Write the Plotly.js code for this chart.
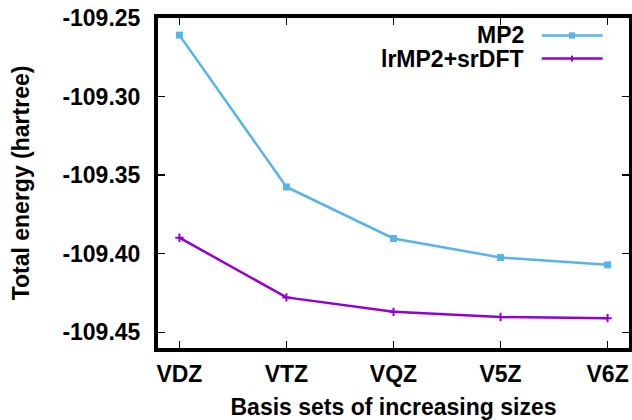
<!DOCTYPE html>
<html>
<head>
<meta charset="utf-8">
<script src="https://cdn.plot.ly/plotly-3.0.1.min.js"></script>
<style>html,body{margin:0;padding:0;background:#fff;}#chart{width:632px;height:420px;}</style>
</head>
<body>
<div id="chart"></div>
<script>
const basisSets = ['VDZ', 'VTZ', 'VQZ', 'V5Z', 'V6Z'];
const mp2 = [-109.2609, -109.3575, -109.3903, -109.4024, -109.4071];
const lrmp2srdft = [-109.3898, -109.4278, -109.4370, -109.4403, -109.4410];
const yTickVals = [-109.45, -109.40, -109.35, -109.30, -109.25];
const yTickText = ['-109.45', '-109.40', '-109.35', '-109.30', '-109.25'];
const seriesNames = ['MP2', 'lrMP2+srDFT'];

const xIdx = basisSets.map((_, i) => i);
const FONT = 'Liberation Sans, Arial, sans-serif';
const c1 = '#56b4e9', c2 = '#9400d3';
const B = s => '<b>' + s + '</b>';

const traces = [
  {x: xIdx, y: mp2, name: seriesNames[0], type: 'scatter', mode: 'lines+markers',
   line: {color: c1, width: 2.5}, marker: {symbol: 'square', size: 7, color: c1}},
  {x: xIdx, y: lrmp2srdft, name: seriesNames[1], type: 'scatter', mode: 'lines+markers',
   line: {color: c2, width: 2.5}, marker: {symbol: 'cross-thin', size: 6, line: {color: c2, width: 2}}}
];

// manual gnuplot-style legend (text right-aligned, sample on the right)
const legY = [0.947, 0.877];
const annotations = seriesNames.map((n, i) => ({
  xref: 'paper', yref: 'paper', x: 0.781, y: legY[i], xanchor: 'right', yanchor: 'middle',
  text: B(n), showarrow: false, font: {family: FONT, size: 23, color: '#000'}
}));
const cols = [c1, c2];
const shapes = [];
cols.forEach((c, i) => {
  shapes.push({type: 'line', xref: 'paper', yref: 'paper', x0: 0.8147, x1: 0.944, y0: legY[i], y1: legY[i],
    line: {color: c, width: 2.5}});
});
shapes.push({type: 'rect', xref: 'paper', yref: 'paper', x0: 0.8727, x1: 0.8855, y0: legY[0] - 0.0095, y1: legY[0] + 0.0095,
  fillcolor: c1, line: {width: 0}});
shapes.push({type: 'line', xref: 'paper', yref: 'paper', x0: 0.879, x1: 0.879, y0: legY[1] - 0.009, y1: legY[1] + 0.009,
  line: {color: c2, width: 2}});

const layout = {
  width: 632, height: 420,
  margin: {l: 158, r: 3, t: 18, b: 72},
  paper_bgcolor: '#fff', plot_bgcolor: '#fff',
  showlegend: false,
  font: {family: FONT, size: 23, color: '#000'},
  xaxis: {
    range: [-0.2, 4.2], tickvals: xIdx, ticktext: basisSets.map(B),
    showgrid: false, zeroline: false, showline: true, linewidth: 4, linecolor: '#000', mirror: 'ticks',
    ticks: 'inside', ticklen: 7, tickwidth: 1.5, tickcolor: '#000',
    tickfont: {family: FONT, size: 23}, ticklabelstandoff: 2,
    title: {text: B('Basis sets of increasing sizes'), font: {family: FONT, size: 23}, standoff: 15}
  },
  yaxis: {
    range: [-109.46, -109.25], tickvals: yTickVals, ticktext: yTickText.map(B),
    showgrid: false, zeroline: false, showline: true, linewidth: 4, linecolor: '#000', mirror: 'ticks',
    ticks: 'inside', ticklen: 7, tickwidth: 1.5, tickcolor: '#000',
    tickfont: {family: FONT, size: 23}, ticklabelstandoff: 9,
    title: {text: B('Total energy (hartree)'), font: {family: FONT, size: 23}, standoff: 27}
  },
  annotations: annotations,
  shapes: shapes
};

Plotly.newPlot('chart', traces, layout, {displayModeBar: false, staticPlot: true});
</script>
</body>
</html>
